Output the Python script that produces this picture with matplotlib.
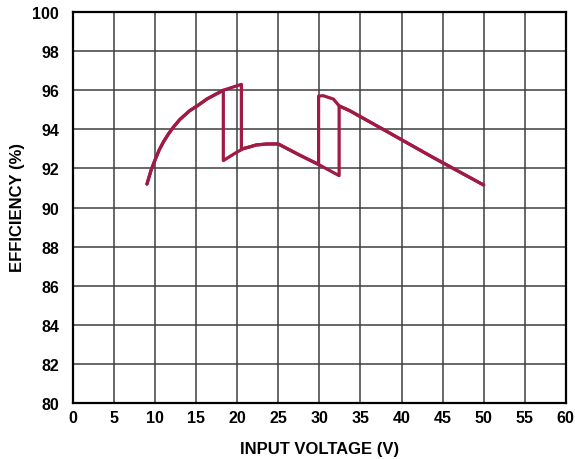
import matplotlib
matplotlib.use("Agg")
import matplotlib.pyplot as plt

# Rising input-voltage sweep
up_v   = [9.0, 9.5, 10.0, 10.5, 11.0, 11.6, 12.2, 13.0, 14.2, 15.3, 16.3, 18.3, 20.5, 20.5, 21.5, 22.3, 23.6, 25.0, 27.5, 29.9, 32.4, 32.4, 33.7, 37.75, 43.8, 50.0]
up_eff = [91.2, 91.9, 92.45, 92.95, 93.35, 93.75, 94.1, 94.5, 94.95, 95.25, 95.55, 96.0, 96.3, 93.0, 93.1, 93.2, 93.25, 93.25, 92.7, 92.2, 91.63, 95.2, 94.95, 94.0, 92.57, 91.15]
# Falling input-voltage sweep
dn_v   = [50.0, 43.8, 37.75, 33.7, 32.4, 31.7, 30.45, 29.9, 29.9, 27.5, 25.0, 23.6, 22.3, 20.7, 19.9, 18.3, 18.3, 16.3, 15.3, 14.2, 13.0, 12.2, 11.6, 11.0, 10.5, 10.0, 9.5, 9.0]
dn_eff = [91.15, 92.57, 94.0, 94.95, 95.2, 95.55, 95.72, 95.7, 92.2, 92.7, 93.25, 93.25, 93.2, 93.0, 92.82, 92.4, 96.0, 95.55, 95.25, 94.95, 94.5, 94.1, 93.75, 93.35, 92.95, 92.45, 91.9, 91.2]

x_ticks = list(range(0, 61, 5))
y_ticks = list(range(80, 101, 2))

plt.rcParams['font.family'] = ['Liberation Sans', 'DejaVu Sans']
fig = plt.figure(figsize=(5.75, 4.6), dpi=100)
ax = fig.add_axes([0.127, 0.1217, 0.857, 0.85])

color = '#A01A44'
ax.plot(up_v, up_eff, color=color, lw=2.3, solid_joinstyle='round', solid_capstyle='round')
ax.plot(dn_v, dn_eff, color=color, lw=2.3, solid_joinstyle='round', solid_capstyle='round')

ax.set_xlim(0, 60)
ax.set_ylim(80, 100)
ax.set_xticks(x_ticks)
ax.set_yticks(y_ticks)
ax.grid(True, color='#3f3f3f', lw=1.1)
ax.set_axisbelow(True)
ax.tick_params(length=0, labelsize=11.5)
ax.tick_params(axis='y', pad=10)
ax.tick_params(axis='x', pad=5)
for lbl in ax.get_xticklabels() + ax.get_yticklabels():
    lbl.set_fontweight('bold')
for s in ax.spines.values():
    s.set_linewidth(1.6)
    s.set_color('black')

fig.text(320 / 575, 1 - 450 / 460, 'INPUT VOLTAGE (V)', fontsize=12, fontweight='bold',
         ha='center', va='center')
fig.text(18 / 575, 1 - 208 / 460, 'EFFICIENCY (%)', fontsize=12, fontweight='bold',
         ha='center', va='center', rotation=90)

fig.savefig('out.png', dpi=100)
